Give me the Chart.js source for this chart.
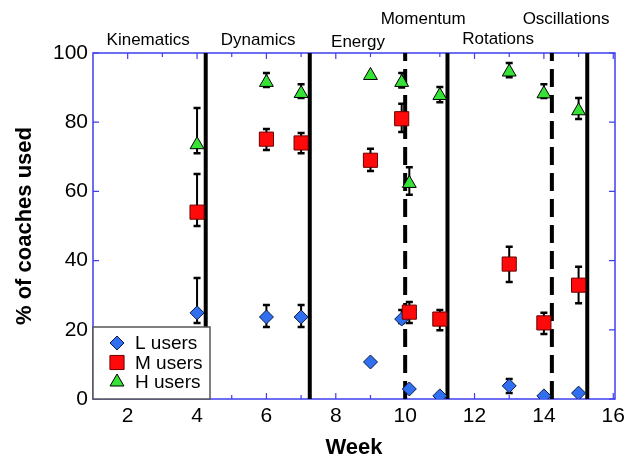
<!DOCTYPE html>
<html>
<head>
<meta charset="utf-8">
<script src="https://cdn.jsdelivr.net/npm/chart.js@4.4.1/dist/chart.umd.min.js"></script>
<style>
  html, body { margin: 0; padding: 0; background: #fff; }
  canvas { display: block; }
</style>
</head>
<body>
<canvas id="coachChart" width="634" height="459"></canvas>
<script>
/* ------------ DATA ------------ */
const weekL = [4, 6, 7, 9, 9.9, 10.12, 11, 13, 14, 15];
const valL  = [24.9, 23.7, 23.7, 10.7, 23.1, 2.9, 0.9, 3.8, 0.9, 1.7];
const hiL   = [35, 27.2, 27.2, null, 25.7, null, null, 5.8, null, null];
const loL   = [22, 20.8, 20.8, null, 22, null, null, 1.7, null, null];

const weekM = [4, 6, 7, 9, 9.9, 10.12, 11, 13, 14, 15];
const valM  = [54, 75.1, 74, 69, 81, 25.1, 23.1, 39, 22, 32.9];
const hiM   = [65, 78, 76.9, 72.3, 85.3, 28, 25.7, 44, 24.9, 38.2];
const loM   = [50, 72, 71, 65.9, 77.2, 22, 19.9, 33.8, 18.8, 27.7];

const weekH = [4, 6, 7, 9, 9.9, 10.12, 11, 13, 14, 15];
const valH  = [73.5, 91.5, 88.3, 93.5, 91.5, 62.3, 87.7, 94.5, 88.2, 83.3];
const hiH   = [84.1, 94.2, 91, null, 94.2, 67, 90.2, 97.1, 91, 87];
const loH   = [71, 90.2, 87, null, 90, 59, 85.8, 93, 87, 80.9];

const solidBreaks  = [4.25, 7.25, 11.22, 15.25];
const dashedBreaks = [10, 14.23];

const xTicks = [2, 4, 6, 8, 10, 12, 14, 16];
const yTicks = [0, 20, 40, 60, 80, 100];

const topics = ['Kinematics', 'Dynamics', 'Energy', 'Momentum', 'Rotations', 'Oscillations'];

/* ------------ LAYOUT / STYLE ------------ */
const topicWeek = [2.59, 5.76, 8.64, 10.52, 12.68, 14.64];
const topicRowY = [40, 40, 42, 19, 39, 19];
const FONT = '"Liberation Sans", Arial, Helvetica, sans-serif';
const FRAME = '#3f3ff0';

const pts = (xs, ys) => xs.map((x, i) => ({ x, y: ys[i] }));
const vline = (x, dashed) => ({
  type: 'line',
  data: [{ x, y: 0 }, { x, y: 100 }],
  borderColor: '#000',
  borderWidth: 4,
  borderDash: dashed ? [18, 8] : [],
  pointRadius: 0,
  showLine: true,
  fill: false,
  isBreak: true
});

const series = [
  { label: 'H users', data: pts(weekH, valH), hi: hiH, lo: loH,
    pointStyle: 'triangle', pointRadius: 8, backgroundColor: '#35e235', borderColor: '#000' },
  { label: 'M users', data: pts(weekM, valM), hi: hiM, lo: loM,
    pointStyle: 'rect', pointRadius: 10, backgroundColor: '#ff0a0a', borderColor: '#6a0000' },
  { label: 'L users', data: pts(weekL, valL), hi: hiL, lo: loL,
    pointStyle: 'rectRot', pointRadius: 7, backgroundColor: '#2f6ff0', borderColor: '#0b1a44' }
].map(s => Object.assign(s, { pointBorderWidth: 1, pointHoverRadius: s.pointRadius, showLine: false }));

/* ------------ PLUGINS ------------ */
const framePlugin = {
  id: 'frame',
  beforeDatasetsDraw(chart) {
    const { ctx, chartArea: a, scales: { x, y } } = chart;
    ctx.save();
    ctx.strokeStyle = FRAME;
    ctx.lineWidth = 1.5;
    ctx.strokeRect(a.left, a.top, a.right - a.left, a.bottom - a.top);
    ctx.lineWidth = 1.2;
    ctx.beginPath();
    for (let w = 2; w <= 16; w++) {
      const px = x.getPixelForValue(w);
      const len = w % 2 === 0 ? 6 : 4;
      ctx.moveTo(px, a.bottom); ctx.lineTo(px, a.bottom - len);
      ctx.moveTo(px, a.top); ctx.lineTo(px, a.top + len);
    }
    yTicks.forEach(v => {
      const py = y.getPixelForValue(v);
      ctx.moveTo(a.left, py); ctx.lineTo(a.left + 6, py);
      ctx.moveTo(a.right, py); ctx.lineTo(a.right - 6, py);
    });
    ctx.stroke();

    // error bars
    ctx.strokeStyle = '#000';
    chart.data.datasets.forEach((ds, di) => {
      if (!ds.hi) return;
      const meta = chart.getDatasetMeta(di);
      meta.data.forEach((pt, i) => {
        if (ds.hi[i] == null) return;
        const top = y.getPixelForValue(ds.hi[i]);
        const bot = y.getPixelForValue(ds.lo[i]);
        ctx.lineWidth = 2;
        ctx.beginPath();
        ctx.moveTo(pt.x, top); ctx.lineTo(pt.x, bot);
        ctx.stroke();
        ctx.lineWidth = 2.5;
        ctx.beginPath();
        ctx.moveTo(pt.x - 3.5, top); ctx.lineTo(pt.x + 3.5, top);
        ctx.moveTo(pt.x - 3.5, bot); ctx.lineTo(pt.x + 3.5, bot);
        ctx.stroke();
      });
    });
    ctx.restore();
  },
  afterDraw(chart) {
    const { ctx, chartArea: a, scales: { x } } = chart;
    ctx.save();
    // section names above the plot
    ctx.fillStyle = '#000';
    ctx.font = `17px ${FONT}`;
    ctx.textAlign = 'center';
    ctx.textBaseline = 'middle';
    topics.forEach((t, i) => ctx.fillText(t, x.getPixelForValue(topicWeek[i]), topicRowY[i]));

    // legend box, lower left inside plot
    const bx = a.left, by = 327, bw = 117, bh = a.bottom - by;
    ctx.fillStyle = '#fff';
    ctx.fillRect(bx, by, bw, bh);
    ctx.strokeStyle = '#555';
    ctx.lineWidth = 1.5;
    ctx.strokeRect(bx, by, bw, bh);
    const order = [2, 1, 0];
    ctx.font = `19px ${FONT}`;
    ctx.textAlign = 'left';
    order.forEach((di, row) => {
      const ds = chart.data.datasets[di];
      const cy = by + 16 + row * 19.5;
      ctx.fillStyle = ds.backgroundColor;
      ctx.strokeStyle = ds.borderColor;
      ctx.lineWidth = 1;
      Chart.helpers.drawPoint(ctx, { pointStyle: ds.pointStyle, radius: ds.pointRadius, borderWidth: 1 }, bx + 24, cy);
      ctx.fillStyle = '#000';
      ctx.fillText(ds.label, bx + 42, cy + 1);
    });
    ctx.restore();
  }
};

/* ------------ CHART ------------ */
new Chart(document.getElementById('coachChart'), {
  type: 'scatter',
  data: {
    datasets: [
      ...series,
      ...solidBreaks.map(v => vline(v, false)),
      ...dashedBreaks.map(v => vline(v, true))
    ]
  },
  options: {
    responsive: false,
    devicePixelRatio: 1,
    animation: false,
    layout: { padding: { left: 0, right: 19, top: 53, bottom: 0 } },
    plugins: { legend: { display: false }, tooltip: { enabled: false } },
    scales: {
      x: {
        type: 'linear', min: 1, max: 16.05,
        afterBuildTicks: s => { s.ticks = xTicks.map(value => ({ value })); },
        afterFit: s => { s.height = 60; },
        grid: { display: false, drawTicks: false },
        border: { display: false },
        ticks: { color: '#000', padding: 5, font: { family: FONT, size: 21 } },
        title: { display: true, text: 'Week', color: '#000', padding: { top: 0, bottom: 0 },
                 font: { family: FONT, size: 22, weight: 'bold', lineHeight: 1 } }
      },
      y: {
        type: 'linear', min: 0, max: 100,
        afterBuildTicks: s => { s.ticks = yTicks.map(value => ({ value })); },
        afterFit: s => { s.width = 93; },
        grid: { display: false, drawTicks: false },
        border: { display: false },
        ticks: { color: '#000', padding: 5, font: { family: FONT, size: 21 } },
        title: { display: true, text: '% of coaches used', color: '#000', padding: { top: 14, bottom: 0 },
                 font: { family: FONT, size: 22, weight: 'bold', lineHeight: 1 } }
      }
    }
  },
  plugins: [framePlugin]
});
</script>
</body>
</html>
